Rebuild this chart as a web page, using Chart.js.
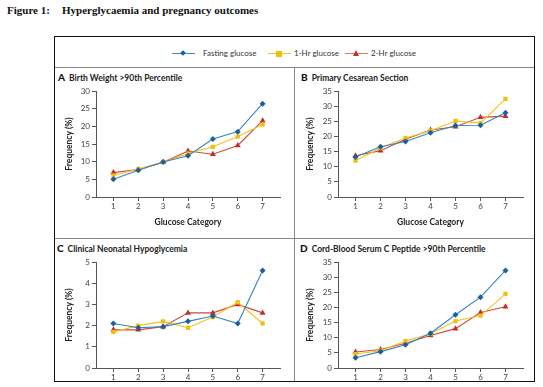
<!DOCTYPE html>
<html>
<head>
<meta charset="utf-8">
<script src="https://cdn.jsdelivr.net/npm/chart.js@4.4.0/dist/chart.umd.min.js"></script>
<style>
  body { margin: 0; width: 543px; height: 387px; background: #fff; position: relative; overflow: hidden; font-family: Lato, "Liberation Sans", sans-serif; color: #222; }
  .fig { position: absolute; top: 4px; font-family: "Liberation Serif", serif; font-weight: bold; font-size: 11px; color: #111; }
  #box { position: absolute; left: 54px; top: 36px; width: 481px; height: 346px; border: 1.5px solid #111; box-sizing: border-box; z-index: 5; pointer-events: none; }
  .hline { position: absolute; height: 1px; background: #888; left: 55px; width: 479px; }
  .vline { position: absolute; width: 1px; background: #888; left: 294px; top: 67px; height: 314px; }
  .panel { position: absolute; overflow: hidden; }
  .panel canvas { position: absolute; top: 17px; left: 1px; }
  .ptitle { position: absolute; top: 4px; font-size: 8.5px; font-weight: bold; white-space: nowrap; color: #222; }
  .ptitle b { font-size: 10px; margin-right: 4px; color: #111; }
  #legend { position: absolute; top: 48px; left: 172px; font-size: 8px; color: #333; white-space: nowrap; }
  .item { position: absolute; top: 0; }
  .sym { position: absolute; top: 1px; width: 23px; height: 9px; }
  .sym::before { content: ""; position: absolute; left: 0; right: 0; top: 4px; height: 1px; background: var(--line); }
  .sym i { position: absolute; }
</style>
</head>
<body>
<div class="fig" style="left:7px">Figure 1:</div>
<div class="fig" style="left:62px">Hyperglycaemia and pregnancy outcomes</div>

<div id="box"></div>
<div class="hline" style="top:67px"></div>
<div class="hline" style="top:238px"></div>
<div class="vline"></div>

<div id="legend">
  <span class="item" style="left:0">
    <span class="sym" style="left:0;--line:#3b8ac6"><i style="left:9px;top:2px;width:4px;height:4px;background:#1c5f9e;transform:rotate(45deg)"></i></span>
    <span style="position:absolute;left:31px;top:0">Fasting glucose</span>
  </span>
  <span class="item" style="left:96px">
    <span class="sym" style="left:0;--line:#f2c21a"><i style="left:8px;top:1.5px;width:6px;height:6px;background:#f0bf10"></i></span>
    <span style="position:absolute;left:26px;top:0">1-Hr&nbsp;glucose</span>
  </span>
  <span class="item" style="left:173px">
    <span class="sym" style="left:0;--line:#dd7a6c"><i style="left:8px;top:0.5px;width:0;height:0;border-left:3.5px solid transparent;border-right:3.5px solid transparent;border-bottom:6.5px solid #c0302a"></i></span>
    <span style="position:absolute;left:26px;top:0">2-Hr&nbsp;glucose</span>
  </span>
</div>

<div class="panel" style="left:55px;top:67px;width:239px;height:171px">
  <div class="ptitle" style="left:3px"><b>A</b>Birth Weight &gt;90th Percentile</div>
  <canvas id="chartA" width="237" height="143"></canvas>
</div>
<div class="panel" style="left:294px;top:67px;width:240px;height:171px">
  <div class="ptitle" style="left:7px"><b>B</b>Primary Cesarean Section</div>
  <canvas id="chartB" width="238" height="143"></canvas>
</div>
<div class="panel" style="left:55px;top:238px;width:239px;height:143px">
  <div class="ptitle" style="left:2px"><b>C</b>Clinical Neonatal Hypoglycemia</div>
  <canvas id="chartC" width="237" height="143"></canvas>
</div>
<div class="panel" style="left:294px;top:238px;width:240px;height:143px">
  <div class="ptitle" style="left:6px"><b>D</b>Cord-Blood Serum C Peptide &gt;90th Percentile</div>
  <canvas id="chartD" width="238" height="143"></canvas>
</div>

<script>
  // glucose categories on the x axis
  const categories = [1, 2, 3, 4, 5, 6, 7];
  const seriesNames = ["Fasting glucose", "1-Hr glucose", "2-Hr glucose"];

  // A - birth weight > 90th percentile (%)
  const birthFasting = [5.0, 7.6, 9.9, 11.7, 16.4, 18.5, 26.4];
  const birthOneHr = [6.1, 7.9, 9.9, 12.3, 14.2, 17.1, 20.5];
  const birthTwoHr = [6.9, 7.8, 9.8, 13.0, 12.1, 14.6, 21.6];

  // B - primary cesarean section (%)
  const cesFasting = [13.2, 16.6, 18.3, 21.2, 23.6, 23.7, 27.8];
  const cesOneHr = [12.0, 16.2, 19.5, 21.9, 25.1, 24.4, 32.4];
  const cesTwoHr = [13.6, 15.3, 19.1, 22.1, 23.2, 26.3, 26.7];

  // C - clinical neonatal hypoglycemia (%)
  const hypoFasting = [2.1, 1.9, 1.95, 2.2, 2.45, 2.1, 4.6];
  const hypoOneHr = [1.7, 2.0, 2.2, 1.9, 2.4, 3.1, 2.1];
  const hypoTwoHr = [1.8, 1.8, 1.95, 2.6, 2.6, 3.0, 2.6];

  // D - cord-blood serum C peptide > 90th percentile (%)
  const cordFasting = [3.4, 5.4, 7.7, 11.5, 17.6, 23.4, 32.2];
  const cordOneHr = [4.6, 5.7, 8.9, 11.3, 15.5, 17.3, 24.5];
  const cordTwoHr = [5.3, 6.1, 8.2, 10.7, 13.0, 18.3, 20.2];

  // y axis ticks
  const ticksA = [0, 5, 10, 15, 20, 25, 30];
  const ticks35 = [0, 5, 10, 15, 20, 25, 30, 35];
  const ticksC = [0, 1, 2, 3, 4, 5];

  const tickFont = { family: "Lato, 'Liberation Sans', sans-serif", size: 8 };
  const titleFont = { family: "Lato, 'Liberation Sans', sans-serif", size: 8.5, weight: "bold", lineHeight: 1.2 };

  function points(values) {
    return values.map(function (v, i) { return { x: categories[i], y: v }; });
  }

  function makeChart(id, fasting, oneHr, twoHr, yTicks, yWidth, rightPad, yTitlePad) {
    let ctx = document.getElementById(id).getContext("2d");
    return new Chart(ctx, {
      type: "line",
      data: {
        datasets: [
          { label: seriesNames[0], data: points(fasting), borderColor: "#3584c2", backgroundColor: "#1c5f9e",
            pointStyle: "rectRot", pointRadius: 3, pointBorderWidth: 0 },
          { label: seriesNames[1], data: points(oneHr), borderColor: "#f2c21a", backgroundColor: "#f0bf10",
            pointStyle: "rect", pointRadius: 3, pointBorderWidth: 0 },
          { label: seriesNames[2], data: points(twoHr), borderColor: "#cf4a3c", backgroundColor: "#c0302a",
            pointStyle: "triangle", pointRadius: 3.5, pointBorderWidth: 0 }
        ]
      },
      options: {
        responsive: false,
        animation: false,
        elements: { line: { borderWidth: 1.1, tension: 0 } },
        layout: { autoPadding: false, padding: { top: 7, right: rightPad, bottom: 0, left: 0 } },
        plugins: { legend: { display: false }, tooltip: { enabled: false } },
        scales: {
          x: {
            type: "linear",
            min: 0.3,
            max: 7.7,
            afterBuildTicks: function (s) { s.ticks = categories.map(function (c) { return { value: c }; }); },
            afterFit: function (s) { s.height = 30; },
            ticks: { font: tickFont, color: "#444", padding: 1, maxRotation: 0 },
            grid: { drawOnChartArea: false, tickLength: 4, color: "#555" },
            border: { color: "#555", width: 1 },
            title: { display: true, text: "Glucose Category", font: titleFont, color: "#222", padding: { top: 0, bottom: 0 } }
          },
          y: {
            min: yTicks[0],
            max: yTicks[yTicks.length - 1],
            afterBuildTicks: function (s) { s.ticks = yTicks.map(function (t) { return { value: t }; }); },
            afterFit: function (s) { s.width = yWidth; },
            ticks: { font: tickFont, color: "#444", padding: 2 },
            grid: { drawOnChartArea: false, tickLength: 4, color: "#555" },
            border: { color: "#555", width: 1 },
            title: { display: true, text: "Frequency (%)", font: titleFont, color: "#222", padding: { top: yTitlePad, bottom: 0 } }
          }
        }
      }
    });
  }

  makeChart("chartA", birthFasting, birthOneHr, birthTwoHr, ticksA, 40, 13, 8);
  makeChart("chartB", cesFasting, cesOneHr, cesTwoHr, ticks35, 43, 10, 10.5);
  makeChart("chartC", hypoFasting, hypoOneHr, hypoTwoHr, ticksC, 40, 13, 8);
  makeChart("chartD", cordFasting, cordOneHr, cordTwoHr, ticks35, 43, 10, 10.5);
</script>
</body>
</html>
